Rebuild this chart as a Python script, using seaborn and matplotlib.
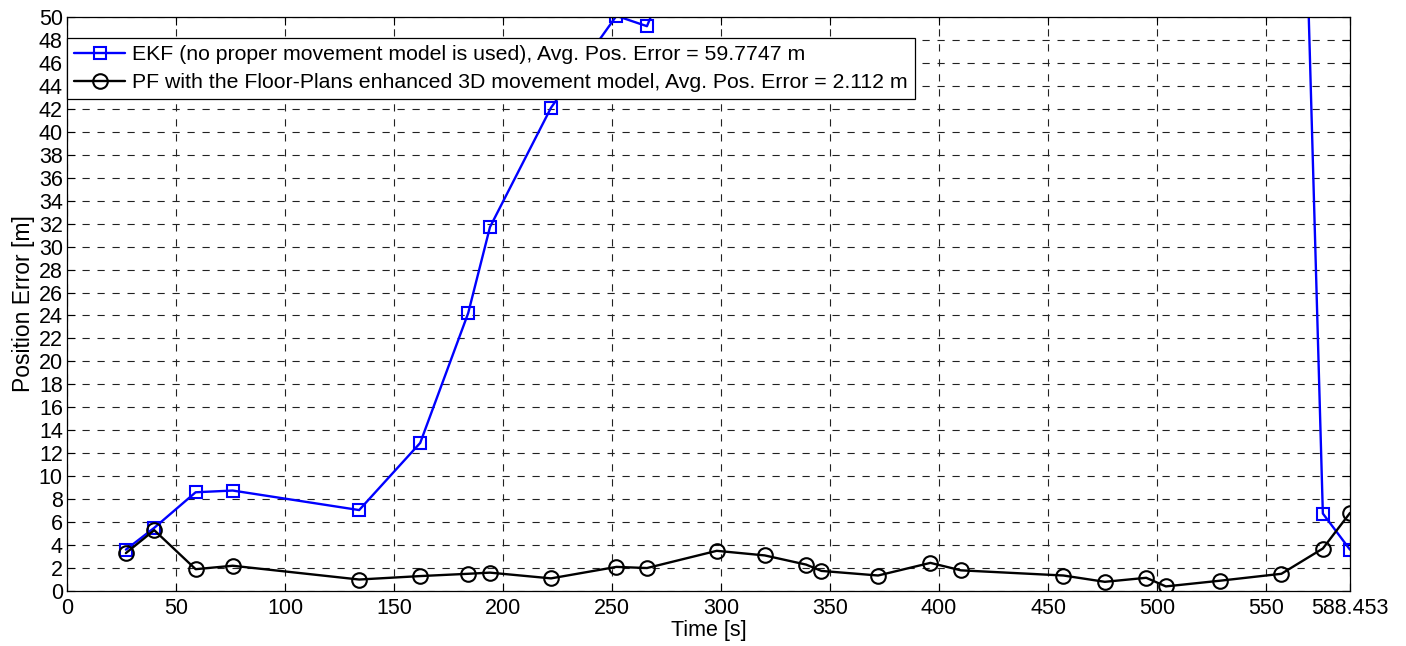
import numpy as np
import pandas as pd
import seaborn as sns
import matplotlib.pyplot as plt

# time stamps of the reference points [s]
time_s = [27, 40, 59, 76, 134, 162, 184, 194, 222, 252, 266, 298, 320, 339, 346,
          372, 396, 410, 457, 476, 495, 504, 529, 557, 576, 588.453]

# EKF error [m]; points between 298 s and 557 s lie above the visible range
ekf_err = [3.6, 5.5, 8.6, 8.75, 7.05, 12.9, 24.2, 31.7, 42.1, 50.1, 49.2, 64, 80,
           88, 90, 97, 104, 102, 110, 112, 106, 108, 105, 134, 6.75, 3.6]

# PF error [m]
pf_err = [3.3, 5.3, 1.9, 2.2, 1.0, 1.3, 1.5, 1.6, 1.1, 2.1, 2.0, 3.5, 3.1, 2.3, 1.75,
          1.35, 2.45, 1.8, 1.35, 0.8, 1.15, 0.4, 0.9, 1.5, 3.7, 6.8]

ekf_label = "EKF (no proper movement model is used), Avg. Pos. Error = 59.7747 m"
pf_label = "PF with the Floor-Plans enhanced 3D movement model, Avg. Pos. Error = 2.112 m"

x_ticks = [0, 50, 100, 150, 200, 250, 300, 350, 400, 450, 500, 550, 588.453]
x_ticklabels = ["0", "50", "100", "150", "200", "250", "300", "350", "400",
                "450", "500", "550", "588.453"]
y_ticks = list(range(0, 51, 2))

df = pd.DataFrame({"time": time_s, "ekf": ekf_err, "pf": pf_err})

sns.set_style("ticks")
plt.rcParams['font.family'] = ['Liberation Sans', 'DejaVu Sans']
plt.rcParams['font.size'] = 15
plt.rcParams['text.color'] = 'black'
plt.rcParams['axes.labelcolor'] = 'black'
plt.rcParams['xtick.color'] = 'black'
plt.rcParams['ytick.color'] = 'black'

fig = plt.figure(figsize=(14.06, 6.46), dpi=100)
ax = fig.add_axes([67 / 1406, 1 - 591 / 646, (1350 - 67) / 1406, (591 - 17) / 646])

sns.lineplot(data=df, x="time", y="ekf", ax=ax, color="#0000ff", linewidth=1.7,
             marker="s", markersize=8, markerfacecolor="none",
             markeredgecolor="#0000ff", markeredgewidth=1.5, label=ekf_label,
             sort=False)
sns.lineplot(data=df, x="time", y="pf", ax=ax, color="black", linewidth=1.7,
             marker="o", markersize=10.5, markerfacecolor="none",
             markeredgecolor="black", markeredgewidth=1.5, label=pf_label,
             sort=False)

ax.set_xlim(0, 588.453)
ax.set_ylim(0, 50)
ax.set_xticks(x_ticks)
ax.set_xticklabels(x_ticklabels)
ax.set_yticks(y_ticks)
ax.tick_params(direction="in", length=6, width=0.8, labelsize=15.5,
               top=True, right=True, colors="black")
ax.tick_params(axis="x", pad=5)
ax.tick_params(axis="y", pad=3)
ax.grid(True, color="#222222", linestyle=(0, (6.5, 7)), linewidth=0.8)
for s in ax.spines.values():
    s.set_color("black")
    s.set_linewidth(0.9)
    s.set_visible(True)

ax.set_xlabel("Time [s]", fontsize=15.5, labelpad=1, color="black")
ax.set_ylabel("Position Error [m]", fontsize=16.5, labelpad=3, color="black")

leg = ax.legend(loc="upper left", bbox_to_anchor=(0, 1 - 21 / 574),
                borderaxespad=0, fancybox=False, framealpha=1, edgecolor="black",
                fontsize=15.3, handlelength=2.4, handletextpad=0.3,
                borderpad=0.35, labelspacing=0.4)
leg.get_frame().set_linewidth(0.9)
for t in leg.get_texts():
    t.set_color("black")

fig.savefig("out.png", dpi=100)
plt.close(fig)
